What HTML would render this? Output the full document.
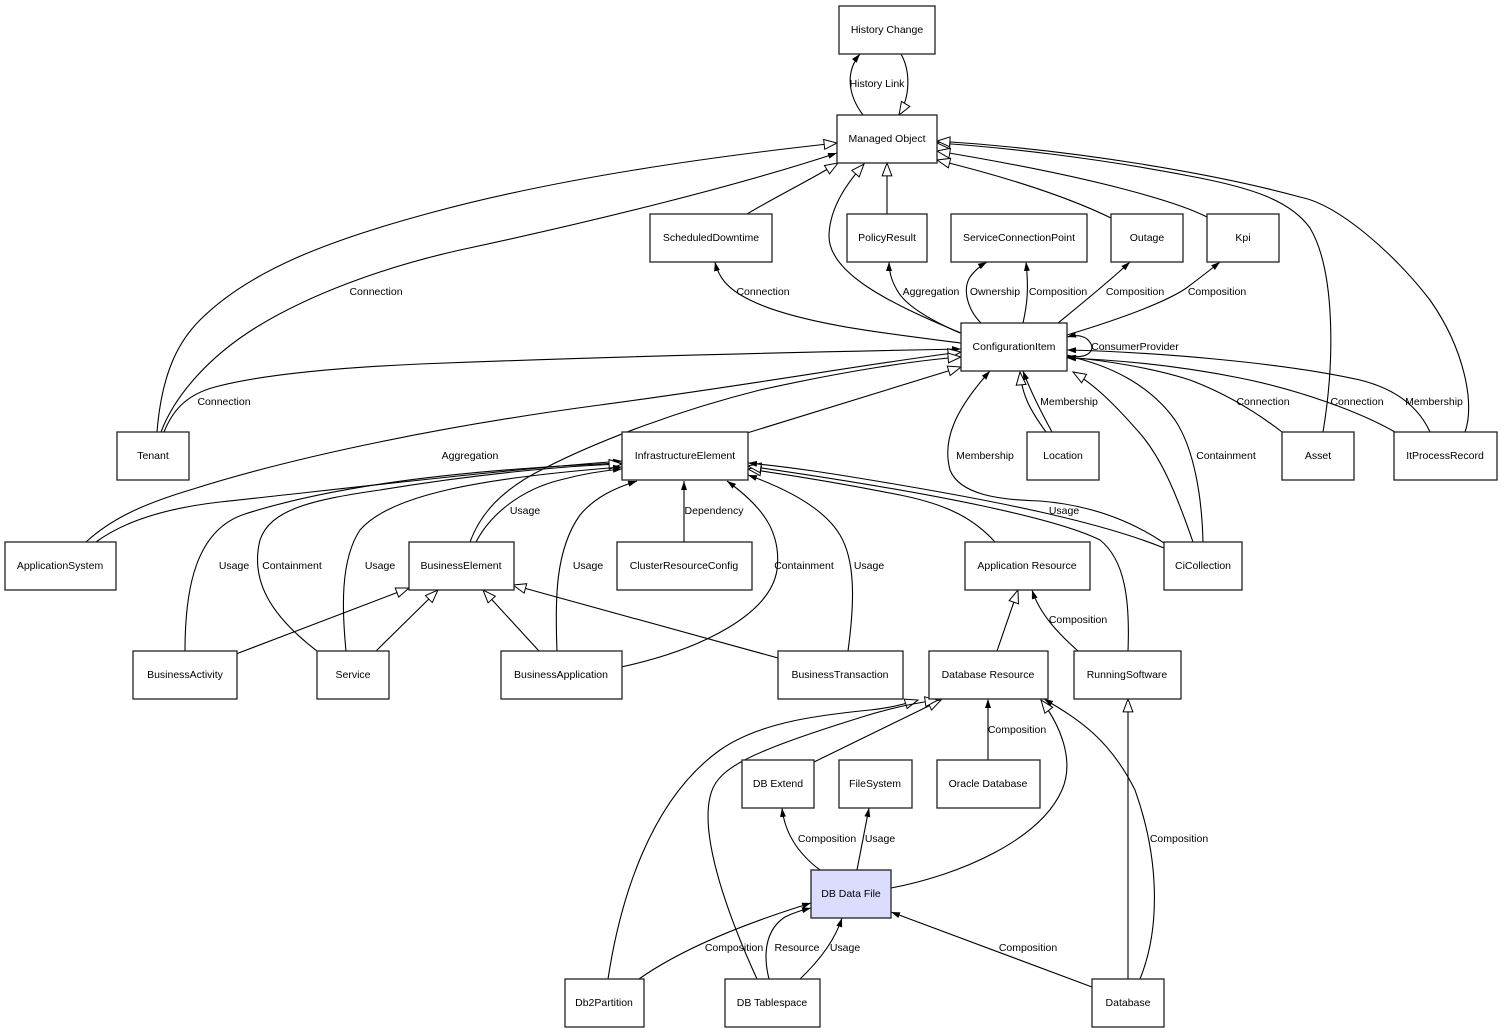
<!DOCTYPE html>
<html><head><meta charset="utf-8"><style>
html,body{margin:0;padding:0;background:#fff;}
svg{display:block;}
text{font-family:"Liberation Sans",Arial,sans-serif;font-size:10.5px;fill:#000;}
.n{fill:#fff;stroke:#222;stroke-width:1.3;}
.e{fill:none;stroke:#000;stroke-width:1.1;}
</style></head><body>
<svg width="1503" height="1033" viewBox="0 0 1503 1033" xmlns="http://www.w3.org/2000/svg">
<defs>
<marker id="f" markerWidth="10" markerHeight="8" refX="9" refY="3" orient="auto" markerUnits="userSpaceOnUse"><path d="M0,0 L9,3 L0,6 z" fill="#000"/></marker>
<marker id="h" markerWidth="15" markerHeight="12" refX="13.5" refY="5.5" orient="auto" markerUnits="userSpaceOnUse"><path d="M0.6,0.6 L13.5,5.5 L0.6,10.4 z" fill="#fff" stroke="#000" stroke-width="1"/></marker>
</defs>

<!-- edges -->
<g class="e">
<path d="M863,115 C848,95 845,72 860,54" marker-end="url(#f)"/>
<path d="M901,54 C910,70 911,95 899,115" marker-end="url(#h)"/>
<path d="M747,214 C770,200 810,180 838,163" marker-end="url(#h)"/>
<path d="M887,214 L887,163" marker-end="url(#h)"/>
<path d="M961,333 C880,300 828,270 829,235 C830,205 850,180 864,164" marker-end="url(#h)"/>
<path d="M157,432 C162,370 180,340 200,320 C250,270 330,240 430,213 C540,183 680,160 837,143" marker-end="url(#h)"/>
<path d="M161,432 C175,395 210,355 260,325 C310,295 380,268 460,250 C600,220 740,185 837,153" marker-end="url(#f)"/>
<path d="M164,432 C172,412 185,395 215,387 C260,375 330,368 420,364 C600,357 800,352 961,349" marker-end="url(#f)"/>
<path d="M961,343 C900,335 800,325 750,300 C725,288 718,275 715,262" marker-end="url(#f)"/>
<path d="M960,333 C930,320 905,305 897,290 C891,280 889,270 889,262" marker-end="url(#f)"/>
<path d="M981,323 C968,310 962,290 970,277 C975,270 980,266 987,262" marker-end="url(#f)"/>
<path d="M1023,323 C1027,305 1029,290 1026,262" marker-end="url(#f)"/>
<path d="M1058,323 C1080,305 1105,285 1130,262" marker-end="url(#f)"/>
<path d="M1067,335 C1110,322 1160,305 1185,289 C1200,278 1210,270 1220,262" marker-end="url(#f)"/>
<path d="M1111,218 C1070,198 1010,178 937,160" marker-end="url(#h)"/>
<path d="M1207,217 C1180,203 1100,178 937,151" marker-end="url(#h)"/>
<path d="M1323,432 C1335,360 1335,270 1310,228 C1290,200 1250,188 1200,178 C1100,158 1000,147 937,143" marker-end="url(#h)"/>
<path d="M1465,432 C1475,405 1465,350 1430,300 C1395,255 1340,205 1300,197 C1220,175 1080,150 937,141" marker-end="url(#h)"/>
<path d="M1067,355 C1085,360 1095,352 1091,344 C1087,336 1078,334 1067,337" marker-end="url(#f)"/>
<path d="M1282,432 C1260,415 1230,395 1190,380 C1150,367 1100,360 1067,357" marker-end="url(#f)"/>
<path d="M1395,432 C1360,412 1300,390 1240,378 C1180,366 1120,360 1067,358" marker-end="url(#f)"/>
<path d="M1430,432 C1420,410 1400,390 1360,380 C1280,362 1150,352 1067,350" marker-end="url(#f)"/>
<path d="M1046,432 C1030,410 1022,395 1020,372" marker-end="url(#h)"/>
<path d="M1052,432 C1040,410 1030,390 1023,371" marker-end="url(#f)"/>
<path d="M1193,542 C1175,490 1160,455 1137,430 C1115,405 1095,385 1073,372" marker-end="url(#h)"/>
<path d="M1203,542 C1202,500 1195,450 1175,420 C1150,385 1110,365 1067,356" marker-end="url(#f)"/>
<path d="M1164,543 C1130,520 1090,505 1040,501 C1000,500 960,495 950,470 C942,440 955,410 990,371" marker-end="url(#f)"/>
<path d="M86,542 C110,520 140,505 190,490 C300,455 450,425 600,405 C750,385 880,362 961,352" marker-end="url(#h)"/>
<path d="M96,542 C115,528 150,510 220,502 C350,488 500,470 622,461" marker-end="url(#f)"/>
<path d="M470,542 C480,515 500,490 545,468 C600,440 680,410 760,390 C850,370 920,360 961,357" marker-end="url(#h)"/>
<path d="M476,542 C490,515 520,490 560,480 C590,472 610,470 622,469" marker-end="url(#f)"/>
<path d="M185,651 C185,590 195,530 245,514 C350,480 500,468 622,463" marker-end="url(#f)"/>
<path d="M317,651 C270,615 250,580 260,540 C270,510 310,500 380,490 C470,475 560,466 622,464" marker-end="url(#h)"/>
<path d="M346,651 C342,610 340,560 360,530 C390,495 480,478 622,467" marker-end="url(#f)"/>
<path d="M236,654 L409,588" marker-end="url(#h)"/>
<path d="M376,651 L438,590" marker-end="url(#h)"/>
<path d="M539,651 L483,590" marker-end="url(#h)"/>
<path d="M778,658 L513,585" marker-end="url(#h)"/>
<path d="M557,651 C555,600 555,550 580,515 C595,497 615,488 637,481" marker-end="url(#f)"/>
<path d="M621,667 C700,650 770,615 777,570 C782,530 760,505 727,481" marker-end="url(#f)"/>
<path d="M684,542 L684,481" marker-end="url(#f)"/>
<path d="M848,651 C855,600 855,560 840,535 C825,510 790,490 748,475" marker-end="url(#f)"/>
<path d="M747,433 L961,367" marker-end="url(#h)"/>
<path d="M995,542 C975,520 950,505 900,495 C850,485 790,475 748,469" marker-end="url(#h)"/>
<path d="M1128,651 C1130,600 1125,560 1100,540 C1060,520 950,495 748,466" marker-end="url(#h)"/>
<path d="M1164,548 C1100,522 1000,502 900,485 C830,473 790,467 748,463" marker-end="url(#f)"/>
<path d="M1078,651 C1060,635 1040,615 1032,590" marker-end="url(#f)"/>
<path d="M997,651 L1018,590" marker-end="url(#h)"/>
<path d="M814,762 L941,700" marker-end="url(#h)"/>
<path d="M608,979 C620,900 650,800 720,750 C760,722 820,715 870,710 C890,708 905,704 918,700" marker-end="url(#h)"/>
<path d="M757,979 C730,920 700,840 710,797 C716,770 740,755 862,717 C890,708 915,703 938,700" marker-end="url(#h)"/>
<path d="M988,760 L988,699" marker-end="url(#f)"/>
<path d="M891,888 C960,875 1040,840 1062,790 C1075,760 1060,725 1041,700" marker-end="url(#h)"/>
<path d="M1140,979 C1160,930 1160,860 1135,790 C1110,740 1080,720 1044,699" marker-end="url(#f)"/>
<path d="M1128,979 L1128,699" marker-end="url(#h)"/>
<path d="M820,870 C800,855 785,835 782,808" marker-end="url(#f)"/>
<path d="M857,870 L869,808" marker-end="url(#f)"/>
<path d="M639,979 C680,950 740,925 811,903" marker-end="url(#f)"/>
<path d="M769,979 C763,955 765,930 785,917 C795,912 803,910 811,908" marker-end="url(#f)"/>
<path d="M800,979 C820,960 835,940 842,918" marker-end="url(#f)"/>
<path d="M1092,987 L891,912" marker-end="url(#f)"/>
</g>

<!-- nodes -->
<g>
<rect class="n" x="839" y="6" width="96" height="48"/>
<rect class="n" x="837" y="115" width="100" height="48"/>
<rect class="n" x="650" y="214" width="122" height="48"/>
<rect class="n" x="847" y="214" width="80" height="48"/>
<rect class="n" x="951" y="214" width="136" height="48"/>
<rect class="n" x="1111" y="214" width="72" height="48"/>
<rect class="n" x="1207" y="214" width="72" height="48"/>
<rect class="n" x="961" y="323" width="106" height="48"/>
<rect class="n" x="117" y="432" width="72" height="48"/>
<rect class="n" x="622" y="432" width="126" height="48"/>
<rect class="n" x="1027" y="432" width="72" height="48"/>
<rect class="n" x="1282" y="432" width="72" height="48"/>
<rect class="n" x="1394" y="432" width="103" height="48"/>
<rect class="n" x="5" y="542" width="111" height="48"/>
<rect class="n" x="409" y="542" width="105" height="48"/>
<rect class="n" x="617" y="542" width="135" height="48"/>
<rect class="n" x="965" y="542" width="125" height="48"/>
<rect class="n" x="1164" y="542" width="78" height="48"/>
<rect class="n" x="133" y="651" width="104" height="48"/>
<rect class="n" x="317" y="651" width="72" height="48"/>
<rect class="n" x="501" y="651" width="121" height="48"/>
<rect class="n" x="778" y="651" width="125" height="48"/>
<rect class="n" x="929" y="651" width="119" height="48"/>
<rect class="n" x="1074" y="651" width="107" height="48"/>
<rect class="n" x="742" y="760" width="72" height="48"/>
<rect class="n" x="839" y="760" width="73" height="48"/>
<rect class="n" x="937" y="760" width="103" height="48"/>
<rect class="n" x="811" y="870" width="80" height="48" style="fill:#dcdcff"/>
<rect class="n" x="565" y="979" width="79" height="48"/>
<rect class="n" x="725" y="979" width="95" height="48"/>
<rect class="n" x="1092" y="979" width="72" height="48"/>
</g>

<!-- node labels -->
<g text-anchor="middle">
<text x="887" y="33">History Change</text>
<text x="887" y="142">Managed Object</text>
<text x="711" y="241">ScheduledDowntime</text>
<text x="887" y="241">PolicyResult</text>
<text x="1019" y="241">ServiceConnectionPoint</text>
<text x="1147" y="241">Outage</text>
<text x="1243" y="241">Kpi</text>
<text x="1014" y="350">ConfigurationItem</text>
<text x="153" y="459">Tenant</text>
<text x="685" y="459">InfrastructureElement</text>
<text x="1063" y="459">Location</text>
<text x="1318" y="459">Asset</text>
<text x="1445" y="459">ItProcessRecord</text>
<text x="60" y="569">ApplicationSystem</text>
<text x="461" y="569">BusinessElement</text>
<text x="684" y="569">ClusterResourceConfig</text>
<text x="1027" y="569">Application Resource</text>
<text x="1203" y="569">CiCollection</text>
<text x="185" y="678">BusinessActivity</text>
<text x="353" y="678">Service</text>
<text x="561" y="678">BusinessApplication</text>
<text x="840" y="678">BusinessTransaction</text>
<text x="988" y="678">Database Resource</text>
<text x="1127" y="678">RunningSoftware</text>
<text x="778" y="787">DB Extend</text>
<text x="875" y="787">FileSystem</text>
<text x="988" y="787">Oracle Database</text>
<text x="851" y="897">DB Data File</text>
<text x="604" y="1006">Db2Partition</text>
<text x="772" y="1006">DB Tablespace</text>
<text x="1128" y="1006">Database</text>
</g>

<!-- edge labels -->
<g text-anchor="middle">
<text x="877" y="87">History Link</text>
<text x="376" y="295">Connection</text>
<text x="763" y="295">Connection</text>
<text x="931" y="295">Aggregation</text>
<text x="995" y="295">Ownership</text>
<text x="1058" y="295">Composition</text>
<text x="1135" y="295">Composition</text>
<text x="1217" y="295">Composition</text>
<text x="1135" y="350">ConsumerProvider</text>
<text x="224" y="405">Connection</text>
<text x="1069" y="405">Membership</text>
<text x="1263" y="405">Connection</text>
<text x="1357" y="405">Connection</text>
<text x="1434" y="405">Membership</text>
<text x="470" y="459">Aggregation</text>
<text x="985" y="459">Membership</text>
<text x="1226" y="459">Containment</text>
<text x="525" y="514">Usage</text>
<text x="714" y="514">Dependency</text>
<text x="1064" y="514">Usage</text>
<text x="234" y="569">Usage</text>
<text x="292" y="569">Containment</text>
<text x="380" y="569">Usage</text>
<text x="588" y="569">Usage</text>
<text x="804" y="569">Containment</text>
<text x="869" y="569">Usage</text>
<text x="1078" y="623">Composition</text>
<text x="1017" y="733">Composition</text>
<text x="827" y="842">Composition</text>
<text x="880" y="842">Usage</text>
<text x="1179" y="842">Composition</text>
<text x="734" y="951">Composition</text>
<text x="797" y="951">Resource</text>
<text x="845" y="951">Usage</text>
<text x="1028" y="951">Composition</text>
</g>
</svg>
</body></html>
